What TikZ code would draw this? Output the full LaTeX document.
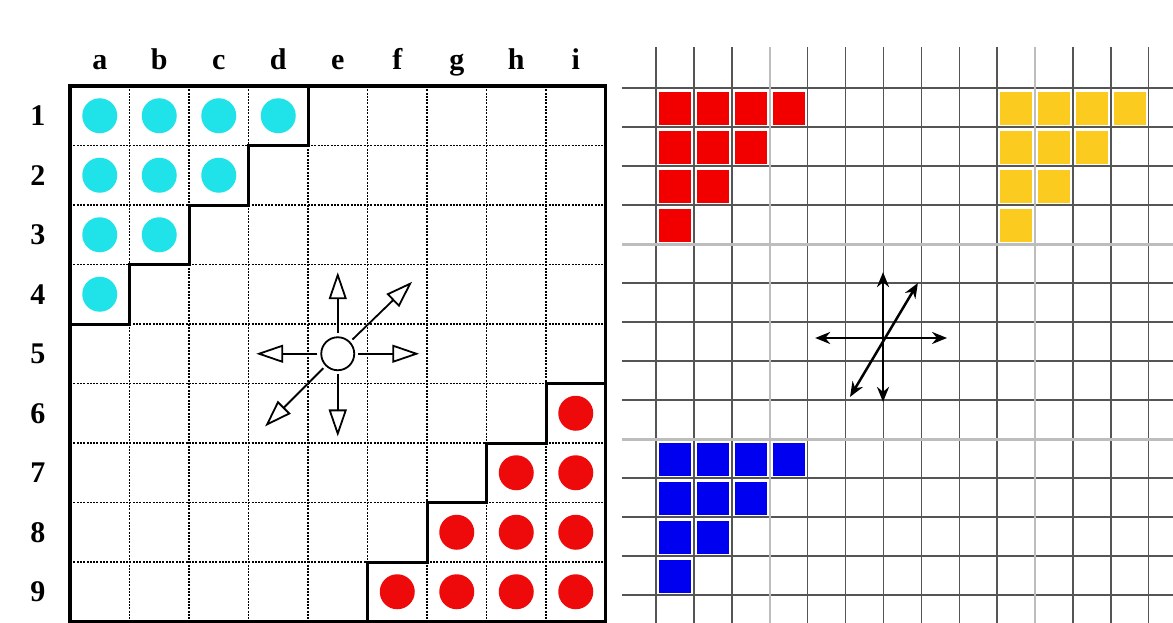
\documentclass[tikz,border=0pt]{standalone}
\usepackage{fontspec}
\setmainfont{Liberation Serif}
\usetikzlibrary{arrows.meta,positioning}
\definecolor{stonecyan}{HTML}{20E3EA}
\definecolor{stonered}{HTML}{EE0A0A}
\definecolor{sqred}{HTML}{F20000}
\definecolor{sqyellow}{HTML}{FCCB1F}
\definecolor{sqblue}{HTML}{0000F0}
\definecolor{gridline}{HTML}{555555}
\definecolor{gridband}{HTML}{BDBDBD}

\begin{document}
\begin{tikzpicture}[x=1pt, y=-1pt,
  lbl/.style={font=\bfseries\fontsize{30}{30}\selectfont, inner sep=0pt, anchor=base},
  cyanpiece/.style={circle, fill=stonecyan, minimum size=35pt, inner sep=0pt},
  redpiece/.style={circle, fill=stonered, minimum size=35pt, inner sep=0pt},
  boardframe/.style={line width=3.5pt},
  stair/.style={line width=3pt, line join=miter},
  dots/.style={line width=1.3pt, dash pattern=on 2pt off 1.3pt},
  centre/.style={circle, draw, line width=1.8pt, fill=white, minimum size=33pt, inner sep=0pt, outer sep=4pt},
  mv/.style={line width=1.8pt, -{Triangle[fill=white, length=27pt, width=18pt]}},
  cellsq/.style={minimum width=32pt, minimum height=33pt, inner sep=0pt},
  fine/.style={gridline, line width=1.4pt},
  band/.style={gridband, line width=3pt},
  dbl/.style={line width=2.5pt, {Stealth[length=15pt,width=12pt]}-{Stealth[length=15pt,width=12pt]}}
]
  \fill[white] (0,0) rectangle (1173,623);
  \useasboundingbox (0,0) rectangle (1173,623);

  % left board, one unit = one cell
  \begin{scope}[xshift=70pt, yshift=-86pt, x=59.5pt, y=-59.5pt]
    \foreach \k in {1,...,8} {
      \draw[dots] (\k,0) -- (\k,9);
      \draw[dots] (0,\k) -- (9,\k);
    }
    \draw[stair] (4,0) -- (4,1) -- (3,1) -- (3,2) -- (2,2) -- (2,3) -- (1,3) -- (1,4) -- (0,4);
    \draw[stair] (5,9) -- (5,8) -- (6,8) -- (6,7) -- (7,7) -- (7,6) -- (8,6) -- (8,5) -- (9,5);
    \draw[boardframe] (0,0) rectangle (9,9);

    \foreach \c [count=\i] in {a,b,c,d,e,f,g,h,i}
      \node[lbl] (col-\c) at (\i-0.5,-0.27) {\c};
    \foreach \r in {1,...,9}
      \node[lbl] (row-\r) at (-0.54,\r-0.33) {\r};

    \foreach \r/\n in {1/4,2/3,3/2,4/1}
      \foreach \c in {1,...,\n}
        \node[cyanpiece] (cy-\c-\r) at (\c-0.5,\r-0.5) {};
    \foreach \r/\m in {6/9,7/8,8/7,9/6}
      \foreach \c in {\m,...,9}
        \node[redpiece] (rd-\c-\r) at (\c-0.5,\r-0.5) {};

    \node[centre] (ctr) at (4.5,4.5) {};
    \coordinate (tipN) at (4.5,3.13);
    \coordinate (tipS) at (4.5,5.89);
    \coordinate (tipW) at (3.13,4.5);
    \coordinate (tipE) at (5.87,4.5);
    \coordinate (tipNE) at (5.75,3.29);
    \coordinate (tipSW) at (3.28,5.72);
    \foreach \t in {tipN,tipS,tipW,tipE,tipNE,tipSW}
      \draw[mv] (ctr) -- (\t);
  \end{scope}

  % right grid
  \begin{scope}[xshift=656pt, yshift=-88pt, x=37.9pt, y=-39pt]
    \foreach \k in {0,...,13} {
      \draw[fine] (\k,-1.05) -- (\k,13.75);
      \draw[fine] (-0.9,\k) -- (13.65,\k);
    }
    \draw[band] (-0.9,4) -- (13.65,4);
    \draw[band] (-0.9,9) -- (13.65,9);
    \draw[band, line width=2.2pt] (3,-1.05) -- (3,13.75);
    \draw[band, line width=2.2pt] (10,-1.05) -- (10,13.75);

    \foreach \r/\n in {0/3,1/2,2/1,3/0}
      \foreach \c in {0,...,\n} {
        \node[cellsq, fill=sqred] (red-\c-\r) at (\c+0.5,\r+0.52) {};
        \node[cellsq, fill=sqyellow] (yel-\c-\r) at (\c+9.5,\r+0.52) {};
        \node[cellsq, fill=sqblue] (blu-\c-\r) at (\c+0.5,\r+9.52) {};
      }

    \coordinate (up) at (5.99,4.72);
    \coordinate (dn) at (5.99,8.05);
    \coordinate (lf) at (4.2,6.41);
    \coordinate (rt) at (7.68,6.41);
    \coordinate (ne) at (6.91,5.0);
    \coordinate (sw) at (5.12,7.92);
    \draw[dbl] (dn) -- (up);
    \draw[dbl] (lf) -- (rt);
    \draw[dbl] (sw) -- (ne);
  \end{scope}
\end{tikzpicture}
\end{document}
